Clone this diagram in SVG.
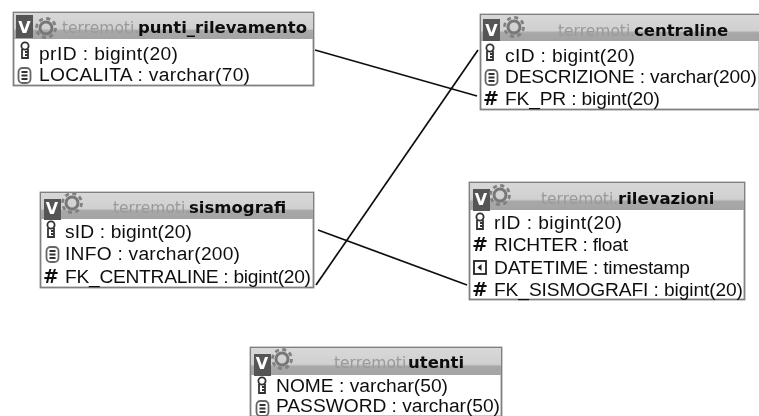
<svg xmlns="http://www.w3.org/2000/svg" width="759" height="416" viewBox="0 0 759 416">
<style>
.f{font-family:"Liberation Sans","Noto Sans",sans-serif;font-size:19.200px;fill:#111;}
.db{font-family:"DejaVu Sans",sans-serif;font-size:15.500px;fill:#9a9a9a;}
.t{font-family:"DejaVu Sans",sans-serif;font-size:19px;font-weight:bold;fill:#111;}
.h{font-family:"DejaVu Sans",sans-serif;font-size:16.500px;font-weight:bold;fill:#0c0c0c;}
.v{font-family:"DejaVu Sans",sans-serif;font-size:16px;font-weight:bold;fill:#fff;text-anchor:middle;}
.box{fill:#fff;stroke:#808080;stroke-width:1.800;}
.conn{fill:none;stroke:#111;stroke-width:1.700;}
.ico{fill:none;stroke:#333;stroke-width:1.800;}
</style>
<defs>
<linearGradient id="hd" x1="0" y1="0" x2="0" y2="1"><stop offset="0" stop-color="#d8d8d8"/><stop offset="0.6" stop-color="#d0d0d0"/><stop offset="0.68" stop-color="#a8a8a8"/><stop offset="1" stop-color="#a4a4a4"/></linearGradient>
<filter id="b" x="-5%" y="-5%" width="110%" height="110%"><feGaussianBlur stdDeviation="0.65"/></filter>
<g id="key"><circle cx="0" cy="-9" r="3.600" class="ico"/><path d="M-3-6L-3 3L3 3L3-6M3-3H0M3 0H0" class="ico"/></g>
<g id="col"><rect x="-5.500" y="-12" width="12" height="15" rx="4" fill="none" stroke="#666" stroke-width="1.800"/><path d="M-2.500-8H3.500M-2.500-4.500H3.500M-2.500-1H3.500" class="ico"/></g>
<g id="gear"><circle cx="0" cy="0" r="6" fill="none" stroke="#777" stroke-width="3"/><circle cx="0" cy="0" r="9.500" fill="none" stroke="#808080" stroke-width="2.800" stroke-dasharray="4 3.460"/></g>
<g id="cal"><rect x="-6" y="-11" width="12" height="13" fill="none" stroke="#222" stroke-width="1.800"/><path d="M1.500-8L-2.500-4.500L1.500-1Z" fill="#222"/></g>
</defs>
<rect width="759" height="416" fill="#fff"/>
<g id="connectors" filter="url(#b)">
<path class="conn" d="M315 50L477 96"/>
<path class="conn" d="M478 50L316 285"/>
<path class="conn" d="M318 230L467 285"/>
</g>
<g filter="url(#b)">
<g id="punti_rilevamento">
<rect class="box" x="13.500" y="12.500" width="300" height="73"/>
<rect x="14" y="13" width="299" height="26" fill="url(#hd)"/>
<rect x="16" y="15" width="17" height="23" fill="#555"/><text class="v" x="24.500" y="33">V</text>
<use href="#gear" x="46" y="28"/>
<text class="db" x="62" y="33">terremoti.</text><text class="h" x="138" y="33">punti_rilevamento</text>
<use href="#key" x="25" y="55"/><text class="f" x="39" y="60" textLength="139">prID : bigint(20)</text>
<use href="#col" x="24" y="80"/><text class="f" x="39" y="81" textLength="211">LOCALITA : varchar(70)</text>
</g>
<g id="centraline">
<rect class="box" x="480.500" y="14.500" width="279" height="95"/>
<rect x="481" y="15" width="278" height="26" fill="url(#hd)"/>
<rect x="483" y="19" width="17" height="22" fill="#555"/><text class="v" x="491.500" y="36">V</text>
<use href="#gear" x="514" y="27"/>
<text class="db" x="558" y="36">terremoti.</text><text class="h" x="634" y="36">centraline</text>
<use href="#key" x="490" y="57"/><text class="f" x="505" y="62" textLength="130">cID : bigint(20)</text>
<use href="#col" x="491" y="82"/><text class="f" x="505" y="83" textLength="252">DESCRIZIONE : varchar(200)</text>
<text class="t" x="483" y="105">#</text><text class="f" x="505" y="105" textLength="155">FK_PR : bigint(20)</text>
</g>
<g id="sismografi">
<rect class="box" x="40.500" y="192.500" width="273" height="95"/>
<rect x="41" y="193" width="272" height="26" fill="url(#hd)"/>
<rect x="44" y="199" width="17" height="21" fill="#555"/><text class="v" x="52" y="214">V</text>
<use href="#gear" x="72" y="203"/>
<text class="db" x="113" y="213">terremoti.</text><text class="h" x="189" y="213">sismografi</text>
<use href="#key" x="51" y="234"/><text class="f" x="65" y="238" textLength="127">sID : bigint(20)</text>
<use href="#col" x="52" y="259"/><text class="f" x="65" y="260" textLength="175">INFO : varchar(200)</text>
<text class="t" x="43" y="283">#</text><text class="f" x="65" y="283" textLength="246">FK_CENTRALINE : bigint(20)</text>
</g>
<g id="rilevazioni">
<rect class="box" x="469.500" y="182.500" width="275" height="117"/>
<rect x="470" y="183" width="274" height="27" fill="url(#hd)"/>
<rect x="473" y="189" width="17" height="22" fill="#555"/><text class="v" x="481" y="205">V</text>
<use href="#gear" x="500" y="195"/>
<text class="db" x="541" y="204">terremoti.</text><text class="h" x="618" y="204">rilevazioni</text>
<use href="#key" x="480" y="226"/><text class="f" x="494" y="229" textLength="128">rID : bigint(20)</text>
<text class="t" x="472" y="251">#</text><text class="f" x="494" y="251" textLength="134">RICHTER : float</text>
<use href="#cal" x="480" y="272"/><text class="f" x="494" y="274" textLength="196">DATETIME : timestamp</text>
<text class="t" x="472" y="296">#</text><text class="f" x="494" y="296" textLength="249">FK_SISMOGRAFI : bigint(20)</text>
</g>
<g id="utenti">
<rect class="box" x="250.500" y="347.500" width="251" height="69"/>
<rect x="251" y="348" width="250" height="27" fill="url(#hd)"/>
<rect x="254" y="354" width="17" height="22" fill="#555"/><text class="v" x="262" y="369">V</text>
<use href="#gear" x="282" y="359"/>
<text class="db" x="334" y="368">terremoti.</text><text class="h" x="408" y="368">utenti</text>
<use href="#key" x="262" y="390"/><text class="f" x="276" y="392" textLength="172">NOME : varchar(50)</text>
<use href="#col" x="262" y="413"/><text class="f" x="276" y="412" textLength="224">PASSWORD : varchar(50)</text>
</g>
</g>
</svg>
